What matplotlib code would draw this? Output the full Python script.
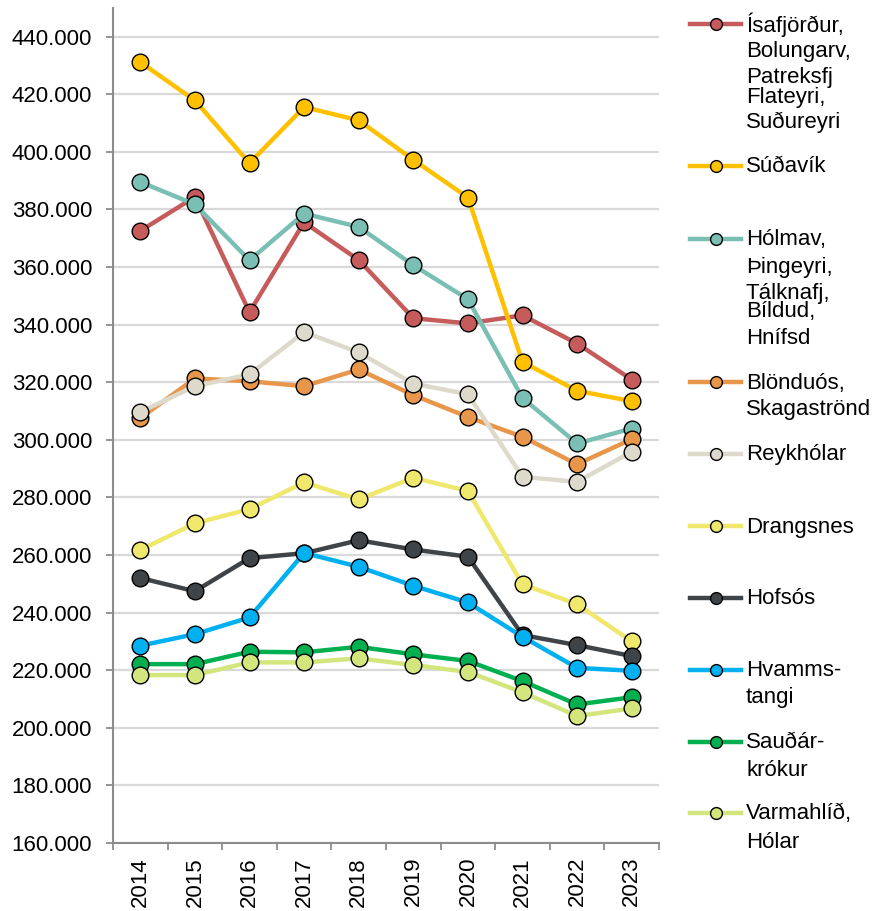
import matplotlib
matplotlib.use("Agg")
import matplotlib.pyplot as plt
from matplotlib.lines import Line2D
from matplotlib.ticker import FuncFormatter, FixedLocator

plt.rcParams['font.family'] = ['Liberation Sans', 'DejaVu Sans']

years = [2014, 2015, 2016, 2017, 2018, 2019, 2020, 2021, 2022, 2023]

isafjordur = [372500, 384300, 344300, 375500, 362400, 342200, 340400, 343200, 333400, 320900]
sudavik = [431100, 417800, 396000, 415500, 410900, 397200, 384100, 327000, 317000, 313400]
holmav = [389500, 381700, 362300, 378500, 373900, 360600, 348800, 314500, 298700, 303900]
blonduos = [307500, 321300, 320300, 318600, 324400, 315500, 307900, 301000, 291500, 300200]
reykholar = [309600, 318600, 322700, 337400, 330300, 319500, 315800, 287100, 285400, 295800]
drangsnes = [261700, 271000, 275900, 285200, 279300, 286800, 282200, 249800, 242900, 230000]
hofsos = [252000, 247400, 258900, 260600, 265100, 261900, 259400, 232200, 228700, 224900]
hvammstangi = [228500, 232500, 238300, 260700, 255900, 249300, 243500, 231600, 220800, 219800]
saudarkrokur = [222100, 222100, 226400, 226200, 228100, 225500, 223200, 216200, 208100, 210600]
varmahlid = [218300, 218300, 222700, 222700, 224100, 221800, 219400, 212300, 204100, 206700]

series = [isafjordur, sudavik, holmav, blonduos, reykholar,
          drangsnes, hofsos, hvammstangi, saudarkrokur, varmahlid]
labels = [
    ["Ísafjörður,", "Bolungarv,", "Patreksfj", "Flateyri,", "Suðureyri"],
    ["Súðavík"],
    ["Hólmav,", "Þingeyri,", "Tálknafj,", "Bíldud,", "Hnífsd"],
    ["Blönduós,", "Skagaströnd"],
    ["Reykhólar"],
    ["Drangsnes"],
    ["Hofsós"],
    ["Hvamms-", "tangi"],
    ["Sauðár-", "krókur"],
    ["Varmahlíð,", "Hólar"],
]
colors = ['#C65B5B', '#FFC000', '#79BFB3', '#E8974A', '#DEDACB',
          '#EFE86C', '#3F4449', '#00B0F0', '#00B050', '#D3E67D']

FS = 16
W, H = 875, 911
fig = plt.figure(figsize=(W / 100, H / 100), dpi=100)
ax = fig.add_axes([113 / W, (H - 843) / H, (659 - 113) / W, (843 - 7.7) / H])

x = list(range(len(years)))
for vals, col in zip(series, colors):
    ax.plot(x, vals, color=col, lw=3.2, marker='o', ms=12,
            mfc=col, mec='black', mew=1.0, solid_joinstyle='round')

ax.set_xlim(-0.5, len(years) - 0.5)
ax.set_ylim(160000, 450000)
ax.yaxis.set_major_locator(FixedLocator(range(160000, 440001, 20000)))
ax.yaxis.set_major_formatter(FuncFormatter(lambda v, p: f"{v:,.0f}".replace(',', '.')))
ax.grid(axis='y', color='#D9D9D9', lw=1.6)
ax.set_axisbelow(True)

ax.set_xticks(x)
ax.set_xticklabels([str(y) for y in years], rotation=90)
ax.xaxis.set_minor_locator(FixedLocator([i - 0.5 for i in range(len(years) + 1)]))
ax.tick_params(axis='x', which='major', length=0, pad=10, labelsize=FS)
ax.tick_params(axis='x', which='minor', length=5, width=1.3, color='#8C8C8C')
ax.tick_params(axis='y', length=5, width=1.3, color='#8C8C8C', pad=10, labelsize=FS)

for s in ['top', 'right']:
    ax.spines[s].set_visible(False)
for s in ['left', 'bottom']:
    ax.spines[s].set_color('#8C8C8C')
    ax.spines[s].set_linewidth(1.5)

# legend drawn by hand to copy the wrapped labels
legend_y = [
    [25, 52, 78, 97, 122],
    [167],
    [240, 267, 293, 312, 338],
    [383, 410],
    [455],
    [527],
    [599],
    [671, 698],
    [743, 770],
    [814, 842],
]


def fx(px):
    return px / W


def fy(py):
    return 1 - py / H


for lines, ys, col in zip(labels, legend_y, colors):
    my = ys[0] - 1
    fig.add_artist(Line2D([fx(690), fx(741)], [fy(my), fy(my)], color=col, lw=3.2,
                          transform=fig.transFigure))
    fig.add_artist(Line2D([fx(716)], [fy(my)], marker='o', ms=8.5, mfc=col, mec='black',
                          mew=1.0, transform=fig.transFigure))
    for t, yy in zip(lines, ys):
        fig.text(fx(746), fy(yy), t, fontsize=FS, va='center', ha='left')

fig.savefig('out.png', dpi=100)
